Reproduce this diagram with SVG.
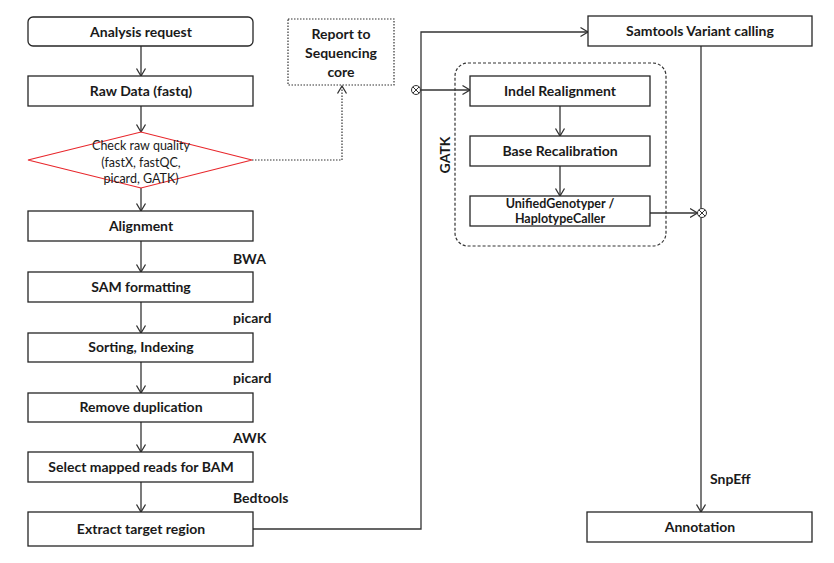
<svg xmlns="http://www.w3.org/2000/svg" width="834" height="563" viewBox="0 0 834 563">
<style>
.box{fill:#fff;stroke:#262626;stroke-width:1.3}
.lbl{font-family:Lato,"Liberation Sans",sans-serif;font-weight:bold;font-size:14px;fill:#1a1a1a;text-anchor:middle}
.lbl2{font-family:Lato,"Liberation Sans",sans-serif;font-weight:bold;font-size:12.5px;fill:#1a1a1a;text-anchor:middle}
.tool{font-family:Lato,"Liberation Sans",sans-serif;font-weight:bold;font-size:14px;fill:#1a1a1a}
.small{font-family:Lato,"Liberation Sans",sans-serif;font-size:12.5px;fill:#1a1a1a;text-anchor:middle}
.ln{fill:none;stroke:#333;stroke-width:1.3}
.dot{fill:none;stroke:#333;stroke-width:1.2;stroke-dasharray:1.5 1.5}
</style>
<defs>
<marker id="ah" markerUnits="userSpaceOnUse" markerWidth="12" markerHeight="12" refX="8" refY="6" orient="auto">
<path d="M0.5,1.5 L8,6 L0.5,10.5" fill="none" stroke="#333" stroke-width="1.3"/>
</marker>
</defs>
<rect width="834" height="563" fill="#fff"/>
<g id="connectors">
<line class="ln" x1="141" y1="46" x2="141" y2="76" marker-end="url(#ah)"/>
<line class="ln" x1="141" y1="106" x2="141" y2="132" marker-end="url(#ah)"/>
<line class="ln" x1="141" y1="188" x2="141" y2="211" marker-end="url(#ah)"/>
<line class="ln" x1="141" y1="241" x2="141" y2="272" marker-end="url(#ah)"/>
<line class="ln" x1="141" y1="302" x2="141" y2="333" marker-end="url(#ah)"/>
<line class="ln" x1="141" y1="362" x2="141" y2="393" marker-end="url(#ah)"/>
<line class="ln" x1="141" y1="422" x2="141" y2="452" marker-end="url(#ah)"/>
<line class="ln" x1="141" y1="482" x2="141" y2="512" marker-end="url(#ah)"/>
<path class="dot" d="M252,160 H342 V86" marker-end="url(#ah)"/>
<path class="ln" d="M253,529 H421 V32 H588" marker-end="url(#ah)"/>
<line class="ln" x1="420.5" y1="90" x2="470" y2="90" marker-end="url(#ah)"/>
<line class="ln" x1="560" y1="106" x2="560" y2="136" marker-end="url(#ah)"/>
<line class="ln" x1="560" y1="166" x2="560" y2="196" marker-end="url(#ah)"/>
<line class="ln" x1="650" y1="213" x2="697.5" y2="213" marker-end="url(#ah)"/>
<line class="ln" x1="701" y1="46" x2="701" y2="512" marker-end="url(#ah)"/>
<g fill="none" stroke="#333" stroke-width="1">
<circle cx="416" cy="90" r="4.5" fill="#fff"/>
<path d="M412.8,86.8 L419.2,93.2 M419.2,86.8 L412.8,93.2"/>
<circle cx="702" cy="213" r="4.5" fill="#fff"/>
<path d="M698.8,209.8 L705.2,216.2 M705.2,209.8 L698.8,216.2"/>
</g>
</g>
<g id="gatk">
<rect x="455" y="63" width="211" height="183" rx="13" fill="none" stroke="#333" stroke-width="1.2" stroke-dasharray="3 2"/>
<text class="tool" transform="translate(450,155) rotate(-90)" text-anchor="middle">GATK</text>
</g>
<g id="analysis-request">
<rect class="box" x="28" y="17" width="225" height="29" rx="5"/>
<text class="lbl" x="141" y="37">Analysis request</text>
</g>
<g id="raw-data">
<rect class="box" x="28" y="76" width="225" height="30"/>
<text class="lbl" x="141" y="96">Raw Data (fastq)</text>
</g>
<g id="check-quality">
<polygon points="28,160 141,132 252,160 141,188" fill="#fff" stroke="#e8262b" stroke-width="1.2"/>
<text class="small" x="141" y="150">Check raw quality</text>
<text class="small" x="141" y="167">(fastX, fastQC,</text>
<text class="small" x="141" y="183">picard, GATK)</text>
</g>
<g id="report">
<rect x="288" y="19" width="106" height="66" fill="#fff" stroke="#333" stroke-width="1.2" stroke-dasharray="1.5 1.5"/>
<text class="lbl" x="341" y="39">Report to</text>
<text class="lbl" x="341" y="58">Sequencing</text>
<text class="lbl" x="341" y="77">core</text>
</g>
<g id="alignment">
<rect class="box" x="28" y="211" width="225" height="30"/>
<text class="lbl" x="141" y="231">Alignment</text>
</g>
<g id="sam-formatting">
<rect class="box" x="28" y="272" width="225" height="30"/>
<text class="lbl" x="141" y="292">SAM formatting</text>
</g>
<g id="sorting">
<rect class="box" x="28" y="333" width="225" height="29"/>
<text class="lbl" x="141" y="352">Sorting, Indexing</text>
</g>
<g id="remove-dup">
<rect class="box" x="28" y="393" width="225" height="29"/>
<text class="lbl" x="141" y="412">Remove duplication</text>
</g>
<g id="select-mapped">
<rect class="box" x="28" y="452" width="225" height="30"/>
<text class="lbl" x="141" y="472">Select mapped reads for BAM</text>
</g>
<g id="extract">
<rect class="box" x="28" y="512" width="225" height="34"/>
<text class="lbl" x="141" y="534">Extract target region</text>
</g>
<g id="tool-labels">
<text class="tool" x="233" y="264">BWA</text>
<text class="tool" x="233" y="323">picard</text>
<text class="tool" x="233" y="383">picard</text>
<text class="tool" x="233" y="443">AWK</text>
<text class="tool" x="233" y="503">Bedtools</text>
<text class="tool" x="710" y="484">SnpEff</text>
</g>
<g id="samtools">
<rect class="box" x="588" y="16" width="224" height="30"/>
<text class="lbl" x="700" y="36">Samtools Variant calling</text>
</g>
<g id="indel">
<rect class="box" x="470" y="76" width="180" height="30"/>
<text class="lbl" x="560" y="96">Indel Realignment</text>
</g>
<g id="base-recal">
<rect class="box" x="470" y="136" width="180" height="30"/>
<text class="lbl" x="560" y="156">Base Recalibration</text>
</g>
<g id="unified">
<rect class="box" x="470" y="196" width="180" height="30"/>
<text class="lbl2" x="560" y="207.5">UnifiedGenotyper /</text>
<text class="lbl2" x="560" y="222.5">HaplotypeCaller</text>
</g>
<g id="annotation">
<rect class="box" x="587" y="512" width="225" height="30"/>
<text class="lbl" x="700" y="532">Annotation</text>
</g>
</svg>
